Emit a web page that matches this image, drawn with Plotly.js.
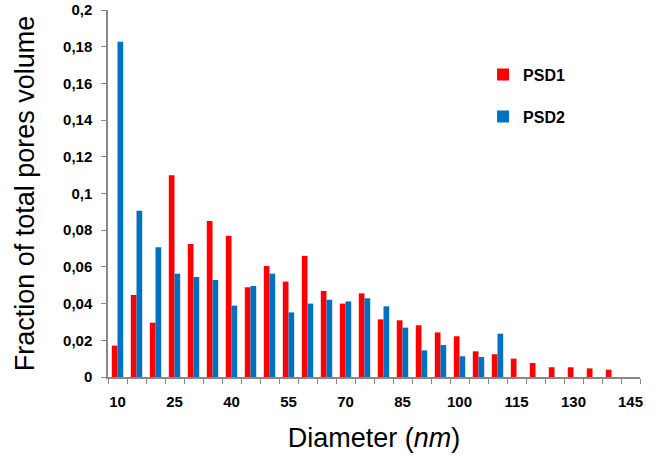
<!DOCTYPE html>
<html><head><meta charset="utf-8">
<script src="https://cdn.plot.ly/plotly-3.0.1.min.js"></script>
<style>html,body{margin:0;padding:0;background:#fff}#chart{width:662px;height:458px}</style>
</head><body><div id="chart"></div>
<script>
var diameters = [10,15,20,25,30,35,40,45,50,55,60,65,70,75,80,85,90,95,100,105,110,115,120,125,130,135,140,145];
var psd1 = [0.0171,0.0447,0.0296,0.110,0.0725,0.085,0.077,0.0489,0.0605,0.052,0.066,0.0469,0.040,0.0456,0.0314,0.0309,0.0282,0.0243,0.0222,0.014,0.0124,0.010,0.0076,0.0053,0.0053,0.0047,0.004,null];
var psd2 = [0.1827,0.0906,0.0707,0.0563,0.0545,0.0529,0.0389,0.0496,0.0563,0.0352,0.040,0.0421,0.0412,0.0429,0.0385,0.0269,0.0145,0.0174,0.0113,0.0109,0.0236,null,null,null,null,null,null,null];
var xTickVals = [10,25,40,55,70,85,100,115,130,145];
var yTickVals = [0,0.02,0.04,0.06,0.08,0.1,0.12,0.14,0.16,0.18,0.2];
var yTickText = ['0','0,02','0,04','0,06','0,08','0,1','0,12','0,14','0,16','0,18','0,2'];

var traces = [
  {type:'bar', name:'PSD1', x:diameters, y:psd1, marker:{color:'#FF0000'}, legendgroup:'a'},
  {type:'bar', name:'PSD2', x:diameters, y:psd2, marker:{color:'#0070C0'}, legendgroup:'b'}
];
var layout = {
  width:662, height:458,
  margin:{l:108, r:22, t:10, b:81},
  paper_bgcolor:'#fff', plot_bgcolor:'#fff',
  barmode:'group', bargap:0.4, bargroupgap:0,
  font:{family:'Liberation Sans, Arial, sans-serif', color:'#000'},
  showlegend:true,
  legend:{x:0.705, y:0.87, xanchor:'left', yanchor:'top', tracegroupgap:18,
          font:{size:16, family:'Liberation Sans, Arial, sans-serif', weight:'bold'}, bgcolor:'rgba(0,0,0,0)'},
  xaxis:{type:'linear', range:[7.5,147.5], tickmode:'array', tickvals:xTickVals,
         ticks:'', showgrid:false, zeroline:false, showline:true, linecolor:'#888', linewidth:1.5,
         tickfont:{size:15, weight:'bold'}, ticklabelstandoff:10,
         minor:{ticks:'outside', tick0:7.5, dtick:5, ticklen:5, tickcolor:'#888', showgrid:false},
         title:{text:'Diameter (<i>nm</i>)', font:{size:27}, standoff:19}},
  yaxis:{range:[0,0.2], tickmode:'array', tickvals:yTickVals, ticktext:yTickText,
         ticks:'outside', ticklen:5, tickcolor:'#888', showgrid:false, zeroline:false,
         showline:true, linecolor:'#888', linewidth:1.5,
         tickfont:{size:15, weight:'bold'}, ticklabelstandoff:6,
         title:{text:'Fraction of total pores volume', font:{size:27}, standoff:21}}
};
Plotly.newPlot('chart', traces, layout, {displayModeBar:false});
</script></body></html>
